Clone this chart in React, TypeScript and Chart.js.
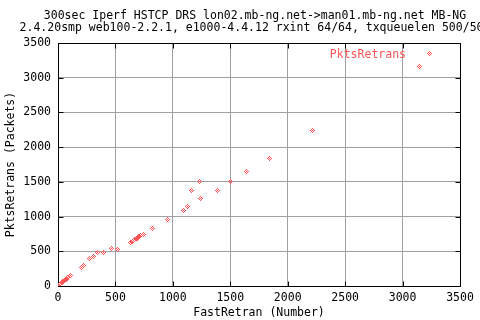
import React, { useEffect, useRef } from "react";
import { Chart, registerables } from "chart.js";

Chart.register(...registerables);

const TITLE_LINES = [
  "300sec Iperf HSTCP DRS lon02.mb-ng.net->man01.mb-ng.net MB-NG",
  "2.4.20smp web100-2.2.1, e1000-4.4.12 rxint 64/64, txqueuelen 500/500",
];
const X_LABEL = "FastRetran (Number)";
const Y_LABEL = "PktsRetrans (Packets)";
const SERIES_LABEL = "PktsRetrans";
const AXIS_MIN = 0;
const AXIS_MAX = 3500;
const AXIS_STEP = 500;

const fastRetran = [
  0, 4, 8, 12, 16, 20, 25, 30, 36, 42, 50, 56, 62, 72, 87, 108,
  206, 226, 272, 305, 342, 395, 470, 517,
  635, 647, 670, 685, 690, 695, 705, 720, 746, 821, 952,
  1091, 1126, 1245, 1161, 1387, 1236, 1500, 1637, 1838, 2214, 3146,
];
const pktsRetrans = [
  0, 6, 12, 18, 24, 30, 36, 44, 52, 60, 70, 80, 88, 100, 122, 146,
  262, 300, 392, 418, 483, 483, 543, 520,
  620, 638, 667, 687, 690, 695, 710, 724, 748, 831, 960,
  1090, 1138, 1262, 1378, 1378, 1507, 1507, 1651, 1839, 2246, 3164,
];

const RED = "rgb(255, 85, 85)";
const GRID = "#a0a0a0";
const FONT_FAMILY = "'DejaVu Sans Mono', monospace";
const FONT_SIZE = 11.5;

function makeDiamond(color: string): HTMLCanvasElement {
  const c = document.createElement("canvas");
  c.width = 5;
  c.height = 5;
  const g = c.getContext("2d")!;
  g.fillStyle = color;
  const pattern = ["..X..", ".X.X.", "X.X.X", ".X.X.", "..X.."];
  pattern.forEach((row, y) =>
    row.split("").forEach((ch, x) => {
      if (ch === "X") g.fillRect(x, y, 1, 1);
    })
  );
  return c;
}

export default function App() {
  const ref = useRef<HTMLCanvasElement | null>(null);

  useEffect(() => {
    if (!ref.current) return;
    const marker = makeDiamond(RED);
    const font = { family: FONT_FAMILY, size: FONT_SIZE };

    const framePlugin = {
      id: "gnuFrame",
      beforeDatasetsDraw(chart: any) {
        const { ctx, chartArea, scales } = chart;
        const a = (v: number) => Math.round(v) + 0.5;
        ctx.save();
        ctx.strokeStyle = "#000";
        ctx.lineWidth = 1;
        const L = a(chartArea.left), R = a(chartArea.right);
        const T = a(chartArea.top), B = a(chartArea.bottom);
        ctx.beginPath();
        ctx.rect(L, T, R - L, B - T);
        ctx.stroke();
        const tl = 5;
        ctx.beginPath();
        scales.x.ticks.forEach((t: any) => {
          const px = a(scales.x.getPixelForValue(t.value));
          ctx.moveTo(px, B); ctx.lineTo(px, B - tl);
          ctx.moveTo(px, T); ctx.lineTo(px, T + tl);
        });
        scales.y.ticks.forEach((t: any) => {
          const py = a(scales.y.getPixelForValue(t.value));
          ctx.moveTo(L, py); ctx.lineTo(L + tl, py);
          ctx.moveTo(R, py); ctx.lineTo(R - tl, py);
        });
        ctx.stroke();
        ctx.restore();
        ctx.imageSmoothingEnabled = false;
      },
      afterDatasetsDraw(chart: any) {
        const { ctx, chartArea } = chart;
        ctx.save();
        ctx.font = `${FONT_SIZE}px ${FONT_FAMILY}`;
        ctx.fillStyle = RED;
        ctx.textAlign = "right";
        ctx.textBaseline = "alphabetic";
        ctx.fillText(SERIES_LABEL, chartArea.right - 54, chartArea.top + 15);
        ctx.imageSmoothingEnabled = false;
        ctx.drawImage(marker, Math.round(chartArea.right - 33), Math.round(chartArea.top + 8));
        // title
        ctx.fillStyle = "#000";
        ctx.textAlign = "center";
        const cx = (chartArea.left + chartArea.right) / 2 - 4;
        ctx.fillText(TITLE_LINES[0], cx, 19);
        ctx.fillText(TITLE_LINES[1], cx, 31);
        ctx.restore();
      },
    };

    const tickFmt = (v: any) => String(v);

    const chart = new Chart(ref.current, {
      type: "scatter",
      data: {
        datasets: [
          {
            label: SERIES_LABEL,
            data: fastRetran.map((x, i) => ({ x, y: pktsRetrans[i] })),
            pointStyle: marker as any,
            pointRadius: 2.5,
            pointHoverRadius: 2.5,
            showLine: false,
          },
        ],
      },
      options: {
        animation: false,
        responsive: false,
        devicePixelRatio: 1,
        layout: { padding: { top: 43, right: 20, left: 0, bottom: 0 } },
        plugins: { legend: { display: false }, tooltip: { enabled: false }, title: { display: false } },
        scales: {
          x: {
            type: "linear",
            min: AXIS_MIN,
            max: AXIS_MAX,
            ticks: { stepSize: AXIS_STEP, color: "#000", font, padding: 5, maxRotation: 0, autoSkip: false, callback: tickFmt },
            grid: { color: GRID, drawTicks: false, lineWidth: 1 },
            border: { display: false },
            title: { display: true, text: X_LABEL, color: "#000", font, padding: 0 },
            afterFit: (s: any) => { s.height = 34; },
          },
          y: {
            type: "linear",
            min: AXIS_MIN,
            max: AXIS_MAX,
            ticks: { stepSize: AXIS_STEP, color: "#000", font, padding: 7, autoSkip: false, callback: tickFmt },
            grid: { color: GRID, drawTicks: false, lineWidth: 1 },
            border: { display: false },
            title: { display: true, text: Y_LABEL, color: "#000", font, padding: { top: 4, bottom: 0 } },
            afterFit: (s: any) => { s.width = 58; },
          },
        },
      },
      plugins: [framePlugin],
    });
    return () => chart.destroy();
  }, []);

  return (
    <div style={{ position: "fixed", left: 0, top: 0, width: 480, height: 320, background: "#fff" }}>
      <canvas ref={ref} width={480} height={320} style={{ width: 480, height: 320 }} />
    </div>
  );
}
